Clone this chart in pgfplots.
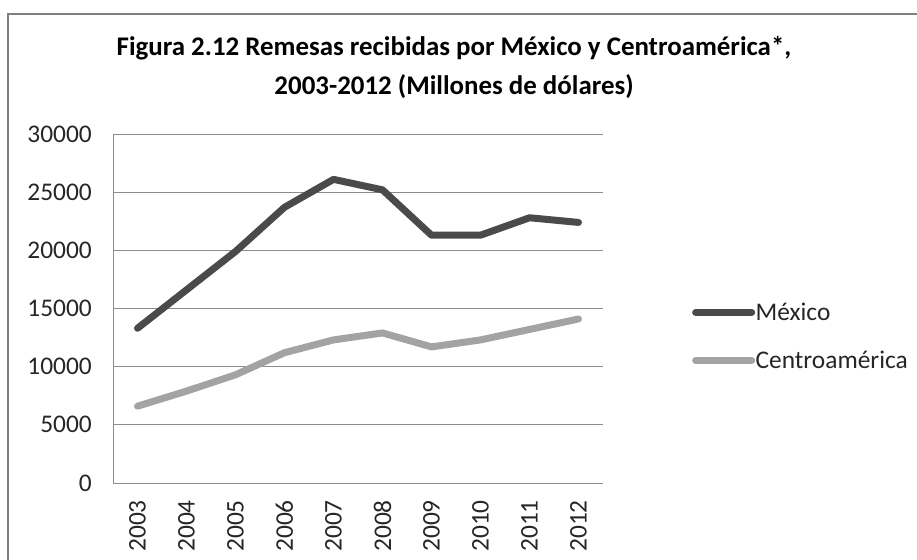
\documentclass[border=0pt]{standalone}
\usepackage{fontspec}
\setmainfont{Carlito}
\usepackage{pgfplots}
\pgfplotsset{compat=1.18}
\definecolor{mexgray}{HTML}{4A4A4A}
\definecolor{camgray}{HTML}{A3A3A3}
\definecolor{gridgray}{HTML}{8C8C8C}
\definecolor{framegray}{HTML}{7F7F7F}
\definecolor{labelgray}{HTML}{262626}

\begin{document}
\begin{tikzpicture}
\begin{axis}[
    scale only axis, width=490bp, height=349bp,
    xmin=-0.5, xmax=9.5, ymin=0, ymax=30000,
    xtick={0,1,2,3,4,5,6,7,8,9},
    xticklabels={2003,2004,2005,2006,2007,2008,2009,2010,2011,2012},
    ytick={0,5000,10000,15000,20000,25000,30000},
    scaled y ticks=false,
    /pgf/number format/1000 sep={},
    /pgf/number format/assume math mode=true,
    axis x line*=bottom, axis y line*=left,
    axis line style={gridgray, line width=0.9bp},
    ymajorgrids, grid style={gridgray, line width=0.9bp},
    major tick length=0pt,
    tick label style={font=\fontsize{25.5}{25.5}\selectfont, text=labelgray},
    yticklabel style={anchor=east, inner sep=0pt},
    yticklabel shift=21bp,
    xticklabel style={rotate=90, anchor=east, inner sep=0pt},
    xticklabel shift=17bp,
    legend style={at={(axis description cs:1.1816,0.42)}, anchor=west,
        draw=none, fill=none, inner sep=0pt, row sep=28bp,
        font=\fontsize{25.5}{25.5}\selectfont,
        nodes={inner sep=0.5bp, text=labelgray}},
    legend cell align=left,
    legend image code/.code={\draw[#1] (0bp,0bp) -- (56bp,0bp);},
    clip=false,
]
\addplot[mexgray, line width=7bp, line join=round, line cap=round] coordinates {
    (0,13300) (1,16600) (2,19900) (3,23700) (4,26100)
    (5,25200) (6,21300) (7,21300) (8,22800) (9,22400)
};
\addlegendentry{México}
\addplot[camgray, line width=7bp, line join=round, line cap=round] coordinates {
    (0,6600) (1,7900) (2,9300) (3,11200) (4,12300)
    (5,12900) (6,11700) (7,12300) (8,13200) (9,14100)
};
\addlegendentry{Centroamérica}

\node[align=center, font=\bfseries\fontsize{27}{39}\selectfont]
    at (axis description cs:0.696,1.19)
    {Figura 2.12 Remesas recibidas por México y Centroamérica*,\\
     2003-2012 (Millones de dólares)};

\coordinate (imgbl) at (axis description cs:-0.23061,-0.22063);
\coordinate (imgtr) at (axis description cs:1.64082,1.38395);
\coordinate (frbl) at (axis description cs:-0.2143,-0.4);
\coordinate (frtl) at (axis description cs:-0.2143,1.3438);
\coordinate (frtr) at (axis description cs:1.8,1.3438);
\end{axis}
\draw[framegray, line width=2bp] (frbl) -- (frtl) -- (frtr);
\pgfresetboundingbox
\path (imgbl) rectangle (imgtr);
\end{tikzpicture}
\end{document}
